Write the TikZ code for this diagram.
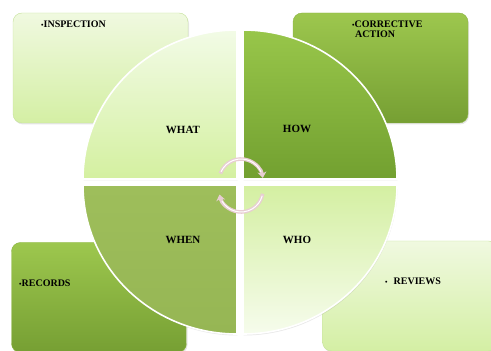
\documentclass[tikz,border=0pt]{standalone}
\usepackage{fontspec}
\setmainfont{Liberation Serif}
\usetikzlibrary{calc,shadows,arrows.meta}

\definecolor{paleTop}{HTML}{F0F9E0}
\definecolor{paleBot}{HTML}{D4EFA4}
\definecolor{paleLine}{HTML}{C6E29C}
\definecolor{oliveTop}{HTML}{9DC74E}
\definecolor{oliveBot}{HTML}{769F33}
\definecolor{oliveLine}{HTML}{8DB445}
\definecolor{whenTop}{HTML}{9EBE5B}
\definecolor{whenBot}{HTML}{96B654}
\definecolor{howTop}{HTML}{98C64A}
\definecolor{howBot}{HTML}{72A030}
\definecolor{whoTop}{HTML}{D4EFA2}
\definecolor{whoBot}{HTML}{F6FCEC}
\definecolor{whatTop}{HTML}{F2FBE6}
\definecolor{whatBot}{HTML}{D4F0A0}
\definecolor{turnPink}{HTML}{E8CDD3}

\tikzset{
  lightbox/.style={draw=paleLine, top color=paleTop, bottom color=paleBot,
    rounded corners=9pt, minimum width=175pt, minimum height=110pt,
    drop shadow={opacity=0.2, shadow xshift=1pt, shadow yshift=-1.5pt}},
  darkbox/.style={draw=oliveLine, top color=oliveTop, bottom color=oliveBot,
    rounded corners=9pt, minimum width=175pt, minimum height=110pt,
    drop shadow={opacity=0.2, shadow xshift=1pt, shadow yshift=-1.5pt}},
  quad/.style={draw=white, line width=1.6pt,
    drop shadow={opacity=0.18, shadow xshift=0.5pt, shadow yshift=-1.5pt}},
  boxtext/.style={font=\fontsize{10}{10}\selectfont\bfseries, inner sep=0pt, align=left},
  quadtext/.style={font=\fontsize{11}{11}\selectfont\bfseries, inner sep=0pt},
  turnarrow/.style={turnPink, line width=3.6pt, -{Stealth[length=6pt,width=9pt]}},
}

\newcommand{\bul}{{\fontsize{7}{7}\selectfont\textbullet}}

\begin{document}
\begin{tikzpicture}[x=1pt,y=1pt]
    \useasboundingbox (0,0) rectangle (491,351);

    % Boxes
    \node[lightbox] (inspbox) at (100.5,283) {};
    \node[darkbox]  (corrbox) at (380.5,283) {};
    \node[darkbox]  (recbox)  at (99,53.5) {};
    \node[lightbox] (revbox)  at (410,55) {};

    % Box texts
    \node[boxtext, anchor=west] (insp) at (41,327) {\bul INSPECTION};
    \node[boxtext, anchor=north west] (corr) at (352,330) {\bul CORRECTIVE\\ \hspace{3pt}ACTION};
    \node[boxtext, anchor=west] (rec)  at (19,68) {\bul RECORDS};
    \node[boxtext, anchor=west] (rev)  at (385,70) {\bul\hspace{6pt}REVIEWS};

    % Quadrants
    \coordinate (c) at (240,169);
    \foreach \a/\sx/\sy/\tc/\bc in {90/-1/1/whatTop/whatBot, 0/1/1/howTop/howBot,
                                    180/-1/-1/whenTop/whenBot, 270/1/-1/whoTop/whoBot}
        \path[quad, top color=\tc, bottom color=\bc]
            ($(c)+(\sx*3,\sy*3)$) -- ++({154*cos(\a)},{149*sin(\a)})
            arc[start angle=\a, end angle=\a+90, x radius=154, y radius=149] -- cycle;

    % Quadrant labels
    \node[quadtext] (what) at (183,221) {WHAT};
    \node[quadtext] (how)  at (297,222) {HOW};
    \node[quadtext] (when) at (183,111) {WHEN};
    \node[quadtext] (who)  at (297,111) {WHO};

    % Turning arrows
    \coordinate (upc) at (241,170);
    \coordinate (loc) at (241,161);
    \draw[turnarrow] ($(upc)+(160:22)$) arc[start angle=160, end angle=8, radius=22];
    \draw[turnarrow] ($(loc)+(-10:22)$) arc[start angle=-10, end angle=-168, radius=22];
    \draw[white, line width=1pt] ($(upc)+(155:22)$) arc[start angle=155, end angle=25, radius=22];
    \draw[white, line width=1pt] ($(loc)+(-15:22)$) arc[start angle=-15, end angle=-150, radius=22];
\end{tikzpicture}
\end{document}
